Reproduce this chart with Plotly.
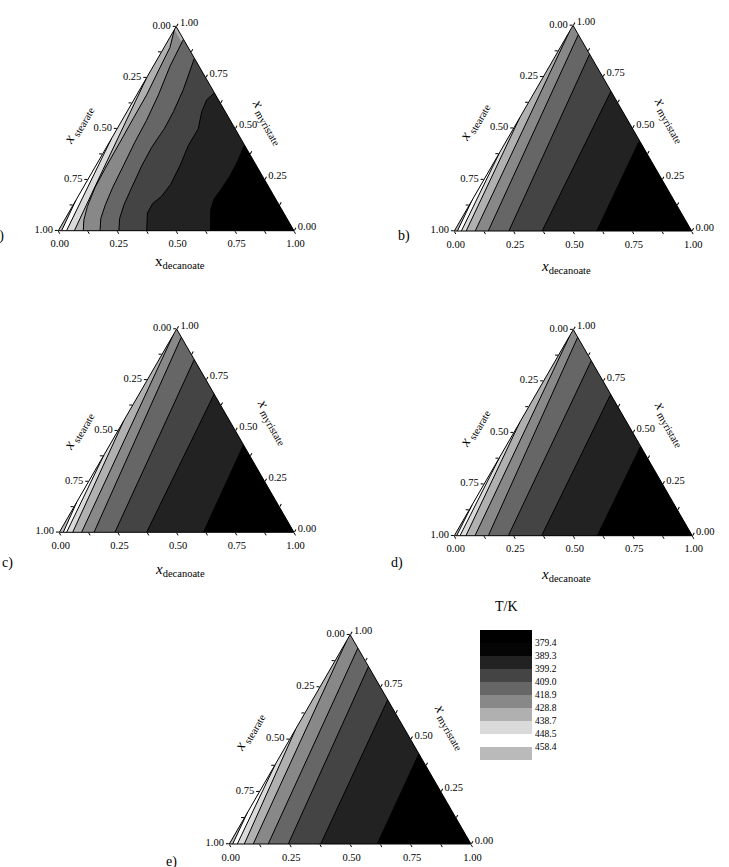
import plotly.graph_objects as go

# ---------------- data ----------------
# Contour lines for each panel, ordered from the stearate corner to the decanoate corner.
# Each line: x_decanoate values and x_myristate values of its points (x_stearate = 1 - the others).
A_DEC = [
    [0.014, 0.0],
    [0.035, 0.0],
    [0.068, 0.040, 0.0],
    [0.106, 0.082, 0.064, 0.050, 0.046, 0.045, 0.043, 0.042, 0.032, 0.025, 0.0],
    [0.177, 0.150, 0.136, 0.125, 0.117, 0.108, 0.104, 0.092, 0.071, 0.062],
    [0.257, 0.230, 0.215, 0.206, 0.195, 0.192, 0.200, 0.197, 0.185, 0.155],
    [0.375, 0.335, 0.334, 0.354, 0.363, 0.357, 0.343, 0.344, 0.317, 0.309, 0.325],
    [0.646, 0.595, 0.583, 0.589, 0.594, 0.591, 0.580],
]
A_MYR = [
    [0.0, 0.15],
    [0.0, 0.45],
    [0.0, 0.30, 0.75],
    [0.0, 0.053, 0.119, 0.210, 0.318, 0.434, 0.550, 0.666, 0.798, 0.897, 0.985],
    [0.0, 0.061, 0.128, 0.210, 0.318, 0.434, 0.541, 0.666, 0.806, 0.938],
    [0.0, 0.061, 0.128, 0.210, 0.318, 0.409, 0.500, 0.583, 0.690, 0.845],
    [0.0, 0.086, 0.133, 0.169, 0.227, 0.318, 0.417, 0.500, 0.583, 0.641, 0.675],
    [0.0, 0.103, 0.156, 0.199, 0.268, 0.338, 0.420],
]

B_DEC = [[0.013, 0.0], [0.030, 0.0], [0.050, 0.0], [0.088, 0.0], [0.143, 0.045], [0.230, 0.140], [0.370, 0.320], [0.600, 0.560]]
B_MYR = [[0.0, 0.15], [0.0, 0.38], [0.0, 0.55], [0.0, 0.97], [0.0, 0.955], [0.0, 0.860], [0.0, 0.680], [0.0, 0.440]]

C_DEC = [[0.017, 0.0], [0.031, 0.0], [0.057, 0.0], [0.095, 0.0], [0.148, 0.040], [0.237, 0.150], [0.372, 0.320], [0.614, 0.570]]
C_MYR = [[0.0, 0.15], [0.0, 0.38], [0.0, 0.55], [0.0, 0.97], [0.0, 0.960], [0.0, 0.850], [0.0, 0.680], [0.0, 0.430]]

D_DEC = [[0.010, 0.0], [0.024, 0.0], [0.049, 0.0], [0.087, 0.0], [0.143, 0.037], [0.227, 0.151], [0.367, 0.314], [0.601, 0.566]]
D_MYR = [[0.0, 0.15], [0.0, 0.38], [0.0, 0.55], [0.0, 0.97], [0.0, 0.963], [0.0, 0.849], [0.0, 0.686], [0.0, 0.434]]

E_DEC = [[0.014, 0.0], [0.033, 0.0], [0.062, 0.0], [0.099, 0.0], [0.161, 0.064], [0.244, 0.152], [0.378, 0.311], [0.612, 0.569]]
E_MYR = [[0.0, 0.15], [0.0, 0.38], [0.0, 0.55], [0.0, 0.97], [0.0, 0.936], [0.0, 0.848], [0.0, 0.689], [0.0, 0.431]]

# band fill colours: stearate corner first, decanoate corner last
BAND_COLORS = ["#bababa", "#ffffff", "#dadada", "#b0b0b0", "#888888", "#666666", "#444444", "#222222", "#000000"]

# legend
LEGEND_LEVELS = ["379.4", "389.3", "399.2", "409.0", "418.9", "428.8", "438.7", "448.5", "458.4"]
LEGEND_COLORS = ["#000000", "#050505", "#222222", "#444444", "#666666", "#888888", "#b0b0b0", "#dadada", "#ffffff", "#bababa"]

TICK_VALS = [0, 0.125, 0.25, 0.375, 0.5, 0.625, 0.75, 0.875, 1.0]
TICK_TEXT = ["1.00", "", "0.75", "", "0.50", "", "0.25", "", "0.00"]  # shown value = 1 - plotly value

# ---------------- layout geometry (pixels) ----------------
W, H = 729, 867
PANELS = [
    dict(name="a", dec=A_DEC, myr=A_MYR, x0=58.3, yb=230.7, s=235.7, upright=True,
         left=(78, 125), right=(268, 122), bottom=(180, 262), label=(6, 236)),
    dict(name="b", dec=B_DEC, myr=B_MYR, x0=454.3, yb=231.0, s=237.4, upright=False,
         left=(474, 122), right=(670, 120), bottom=(566, 267), label=(412, 236)),
    dict(name="c", dec=C_DEC, myr=C_MYR, x0=59.3, yb=532.3, s=234.7, upright=False,
         left=(78, 431), right=(273, 422), bottom=(180, 570), label=(15, 563)),
    dict(name="d", dec=D_DEC, myr=D_MYR, x0=454.3, yb=535.7, s=238.0, upright=False,
         left=(474, 428), right=(670, 424), bottom=(566, 575), label=(405, 563)),
    dict(name="e", dec=E_DEC, myr=E_MYR, x0=229.3, yb=844.0, s=241.7, upright=False,
         left=(249, 732), right=(450, 727), bottom=None, label=(179, 862)),
]

SERIF = "Liberation Serif, Times New Roman, serif"
fig = go.Figure()
layout = dict(width=W, height=H, margin=dict(l=0, r=0, t=0, b=0),
              paper_bgcolor="white", plot_bgcolor="white", showlegend=False,
              font=dict(family=SERIF, color="black"), annotations=[])


def px(x, y):
    return x / W, 1 - y / H


def note(xy, text, size, angle=0, xanchor="center"):
    x, y = px(*xy)
    layout["annotations"].append(dict(x=x, y=y, xref="paper", yref="paper", showarrow=False,
                                      text=text, textangle=angle, xanchor=xanchor, yanchor="middle",
                                      font=dict(size=size, family=SERIF, color="black")))


def axis_cfg():
    return dict(showgrid=False, showline=True, linecolor="black", linewidth=1,
                ticks="outside", ticklen=3, tickwidth=1, tickcolor="black",
                tickmode="array", tickvals=TICK_VALS, ticktext=TICK_TEXT,
                tickfont=dict(family=SERIF, size=10.5, color="black"), title=dict(text=""))


for i, p in enumerate(PANELS):
    sub = "ternary" if i == 0 else f"ternary{i+1}"
    h = p["s"] * 3 ** 0.5 / 2
    layout[sub] = dict(
        domain=dict(x=[p["x0"] / W, (p["x0"] + p["s"]) / W],
                    y=[1 - p["yb"] / H, 1 - (p["yb"] - h) / H]),
        bgcolor="white", sum=1,
        aaxis=axis_cfg(), baxis=axis_cfg(), caxis=axis_cfg(),
    )
    # base band: whole triangle
    fig.add_trace(go.Scatterternary(a=[1, 0, 0], b=[0, 1, 0], c=[0, 0, 1], mode="lines",
                                    line=dict(width=0, color=BAND_COLORS[0]), fill="toself",
                                    fillcolor=BAND_COLORS[0], subplot=sub, hoverinfo="skip"))
    for k, (dec, myr) in enumerate(zip(p["dec"], p["myr"])):
        c = list(dec)
        a = list(myr)
        end_ste = 1 - c[-1] - a[-1]
        if end_ste < 0.02:   # ends on the stearate-free edge: only the decanoate corner lies beyond
            a2, c2 = a + [0], c + [1]
        else:                # ends on the decanoate-free edge: myristate and decanoate corners beyond
            a2, c2 = a + [1, 0], c + [0, 1]
        b2 = [max(0.0, 1 - ai - ci) for ai, ci in zip(a2, c2)]
        col = BAND_COLORS[k + 1]
        fig.add_trace(go.Scatterternary(a=a2, b=b2, c=c2, mode="lines",
                                        line=dict(width=0, color=col), fill="toself",
                                        fillcolor=col, subplot=sub, hoverinfo="skip"))
    for dec, myr in zip(p["dec"], p["myr"]):
        b = [max(0.0, 1 - ai - ci) for ai, ci in zip(myr, dec)]
        fig.add_trace(go.Scatterternary(a=myr, b=b, c=dec, mode="lines",
                                        line=dict(width=1, color="black"), subplot=sub,
                                        hoverinfo="skip"))
    note(p["left"], "<i>x</i><sub> stearate</sub>", 15, angle=-60)
    note(p["right"], "<i>x</i><sub> myristate</sub>", 15, angle=60)
    if p["bottom"] is not None:
        xt = "x" if p["upright"] else "<i>x</i>"
        note(p["bottom"], xt + "<sub>decanoate</sub>", 15)
    note(p["label"], p["name"] + ")", 14, xanchor="right")

# legend as a column of bars
fig.add_trace(go.Bar(x=[1] * len(LEGEND_COLORS), y=list(range(len(LEGEND_COLORS))), orientation="h",
                     width=1, marker=dict(color=LEGEND_COLORS, line=dict(width=0)),
                     xaxis="x", yaxis="y", hoverinfo="skip"))
layout["xaxis"] = dict(domain=[480 / W, 532 / W], range=[0, 1], visible=False, fixedrange=True)
layout["yaxis"] = dict(domain=[1 - 760 / H, 1 - 630 / H], range=[9.5, -0.5], side="right",
                       tickmode="array", tickvals=[i + 0.5 for i in range(len(LEGEND_LEVELS))],
                       ticktext=LEGEND_LEVELS, showgrid=False, zeroline=False, showline=False,
                       ticks="", tickfont=dict(size=9.5, family=SERIF, color="black"),
                       ticklabelstandoff=2)
note((506, 606), "T/K", 14)

fig.update_layout(**layout)
fig.write_html("out.html")
